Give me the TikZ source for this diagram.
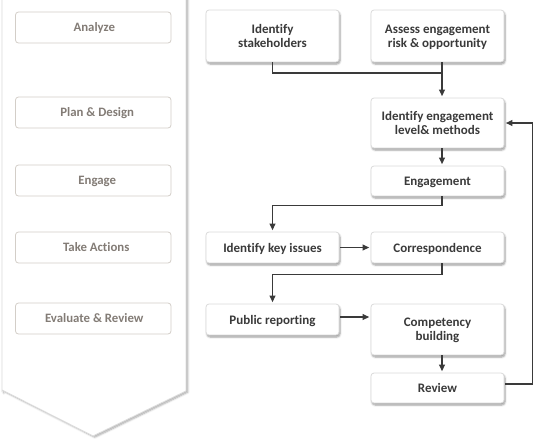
\documentclass[tikz,border=0pt]{standalone}
\usepackage{fontspec}
\setmainfont{Carlito}[Ligatures={NoCommon,NoRare}]
\usetikzlibrary{arrows.meta,shadows.blur,calc}
\definecolor{boxline}{HTML}{DADADA}
\definecolor{leftline}{HTML}{D3CEC8}
\definecolor{lefttext}{HTML}{837C76}
\definecolor{maintext}{HTML}{3A3A3A}
\definecolor{conn}{HTML}{3A3A3A}
\definecolor{panelline}{HTML}{DCDCDC}
\tikzset{
  flowbox/.style={draw=boxline, line width=0.8pt, fill=white, rounded corners=3pt,
    minimum width=133pt, inner sep=0pt, align=center, text=maintext, text depth=0pt,
    font=\fontsize{13}{14}\selectfont\bfseries,
    blur shadow={shadow xshift=1pt, shadow yshift=-2pt, shadow blur steps=5, shadow opacity=40}},
  phasebox/.style={draw=leftline, line width=0.8pt, fill=white, rounded corners=3pt,
    minimum width=155.5pt, minimum height=31pt, inner sep=0pt, text=lefttext, text depth=0pt,
    font=\fontsize{12.8}{14}\selectfont\bfseries},
  conline/.style={draw=conn, line width=1.2pt},
  arr/.style={conline, -{Triangle[length=6.5pt,width=6pt]}, shorten >=1.5pt},
}
\begin{document}
\begin{tikzpicture}[x=1pt,y=-1pt]
\useasboundingbox (0,0) rectangle (533,442);
% left chevron panel
\path[draw=panelline, line width=0.9pt, fill=white,
  blur shadow={shadow xshift=1.8pt, shadow yshift=-1.2pt, shadow blur steps=6, shadow opacity=35}]
  [rounded corners=6pt] (2,-8) -- (2,386) [sharp corners] -- (2,390) -- (93,436) -- (186,391) [rounded corners=6pt] -- (186,-8) -- cycle;
% phases
\node[phasebox] (analyze) at (93.25,27.5) {\hspace*{2pt}Analyze};
\node[phasebox] (plan) at (93.25,112.5) {\hspace*{8pt}Plan \& Design};
\node[phasebox] (engage) at (93.25,180.5) {\hspace*{8pt}Engage};
\node[phasebox] (take) at (93.25,247.5) {\hspace*{6pt}Take Actions};
\node[phasebox] (eval) at (93.25,318.5) {\hspace*{2pt}Evaluate \& Review};
% flow boxes
\node[flowbox, minimum height=52pt] (stake) at (272.5,36) {Identify\\stakeholders};
\node[flowbox, minimum height=52pt] (assess) at (437.5,36) {Assess engagement\\risk \& opportunity};
\node[flowbox, minimum height=50pt] (level) at (437.5,123) {Identify engagement\\level\& methods};
\node[flowbox, minimum height=30pt] (engm) at (437.5,181) {Engagement};
\node[flowbox, minimum height=31pt] (keyiss) at (272.5,247.5) {Identify key issues};
\node[flowbox, minimum height=31pt] (corr) at (437.5,247.5) {Correspondence};
\node[flowbox, minimum height=31pt] (public) at (272.5,319.5) {Public reporting};
\node[flowbox, minimum height=51pt] (comp) at (437.5,329.5) {Competency\\building};
\node[flowbox, minimum height=30pt] (review) at (437.5,388) {Review};
% connectors
\coordinate (j1) at ([xshift=4.5pt]assess.south |- 0,73);
\draw[conline] (stake.south) |- (j1);
\draw[arr] ([xshift=4.5pt]assess.south) -- ([xshift=4.5pt]level.north);
\draw[arr] ([xshift=4.5pt]level.south) -- ([xshift=4.5pt]engm.north);
\draw[arr] ([xshift=4.5pt]engm.south) -- ++(0,9) -| (keyiss.north);
\draw[arr, shorten <=1pt] (keyiss.east) -- (corr.west);
\draw[arr] ([xshift=4.5pt]corr.south) -- ++(0,11) -| (public.north);
\draw[arr, shorten <=1pt] ([yshift=2.5pt]public.east) -- ([yshift=2.5pt]public.east -| comp.west);
\draw[arr] ([xshift=4.5pt]comp.south) -- ([xshift=4.5pt]review.north);
\draw[arr, shorten <=1pt] ([yshift=4pt]review.east) -- ++(28,0) |- (level.east);
\end{tikzpicture}
\end{document}
